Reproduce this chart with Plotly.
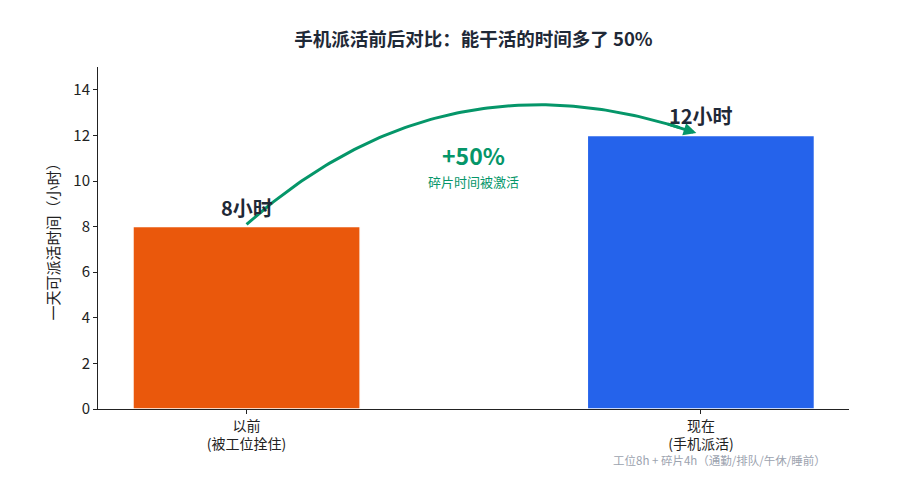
import numpy as np
import plotly.graph_objects as go

categories = ["以前<br>(被工位拴住)", "现在<br>(手机派活)"]
hours = [8, 12]
bar_labels = ["8小时", "12小时"]
bar_colors = ["#EA580C", "#2563EB"]
y_ticks = [0, 2, 4, 6, 8, 10, 12, 14]
gain_text = "+50%"
gain_sub = "碎片时间被激活"
note_text = "工位8h + 碎片4h（通勤/排队/午休/睡前）"
title_text = "手机派活前后对比：能干活的时间多了 50%"

FONT = "Noto Sans CJK SC"
GREEN = "#059669"
DARK = "#1F2937"

x_pos = list(range(len(categories)))

fig = go.Figure()
fig.add_trace(go.Bar(
    x=x_pos, y=hours, width=0.5,
    marker=dict(color=bar_colors, line=dict(color="white", width=1.5)),
    hoverinfo="skip", showlegend=False,
))

# curved arrow (quadratic Bezier) from top of first bar to top of second
p0 = np.array([x_pos[0], hours[0] + 0.1])
p2 = np.array([x_pos[1] - 0.01, hours[1] + 0.1])
p1 = np.array([0.44, 15.9])
t = np.linspace(0, 1, 120)[:, None]
curve = (1 - t) ** 2 * p0 + 2 * t * (1 - t) * p1 + t ** 2 * p2
fig.add_trace(go.Scatter(
    x=curve[:-4, 0], y=curve[:-4, 1], mode="lines",
    line=dict(color=GREEN, width=3), hoverinfo="skip", showlegend=False,
))
tt = 0.94
tail = (1 - tt) ** 2 * p0 + 2 * tt * (1 - tt) * p1 + tt ** 2 * p2
fig.add_annotation(
    x=p2[0], y=p2[1], ax=tail[0], ay=tail[1],
    xref="x", yref="y", axref="x", ayref="y",
    showarrow=True, arrowhead=2, arrowsize=0.85, arrowwidth=3,
    arrowcolor=GREEN, text="",
)

for xi, h, lab in zip(x_pos, hours, bar_labels):
    fig.add_annotation(x=xi, y=h, text=f"<b>{lab}</b>", showarrow=False,
                       yanchor="bottom", yshift=3,
                       font=dict(family=FONT, size=20, color=DARK))

mid_x = (x_pos[0] + x_pos[1]) / 2
fig.add_annotation(x=mid_x, y=11.14, text=f"<b>{gain_text}</b>", showarrow=False,
                   yanchor="middle", font=dict(family=FONT, size=23, color=GREEN))
fig.add_annotation(x=mid_x, y=9.96, text=gain_sub, showarrow=False,
                   yanchor="middle", font=dict(family=FONT, size=13, color=GREEN))

fig.add_annotation(x=0.828, y=-0.15, text=note_text, showarrow=False,
                   xref="paper", yref="paper", xanchor="center", yanchor="middle",
                   font=dict(family=FONT, size=11.5, color="#9CA3AF"))

fig.update_layout(
    width=912, height=477,
    paper_bgcolor="white", plot_bgcolor="white",
    margin=dict(l=90, r=71, t=59, b=76),
    title=dict(text=f"<b>{title_text}</b>", x=0.5104, xanchor="center", y=0.933,
               yanchor="middle", font=dict(family=FONT, size=18.5, color=DARK)),
    font=dict(family=FONT, color="#222222"),
)
fig.update_xaxes(
    range=[-0.327, 1.326], tickvals=x_pos, ticktext=categories,
    showgrid=False, zeroline=False, showline=True, linecolor="#222222",
    linewidth=1, ticks="outside", ticklen=4, tickcolor="#222222",
    tickfont=dict(family=FONT, size=14, color="#222222"),
)
fig.update_yaxes(
    range=[0, 15], tickvals=y_ticks, showgrid=False, zeroline=False,
    showline=True, linecolor="#222222", linewidth=1, ticks="outside",
    ticklen=4, tickcolor="#222222",
    tickfont=dict(family=FONT, size=15, color="#222222"),
    title=dict(text="一天可派活时间（小时）", standoff=10,
               font=dict(family=FONT, size=15, color="#222222")),
)

fig.write_html("out.html")
